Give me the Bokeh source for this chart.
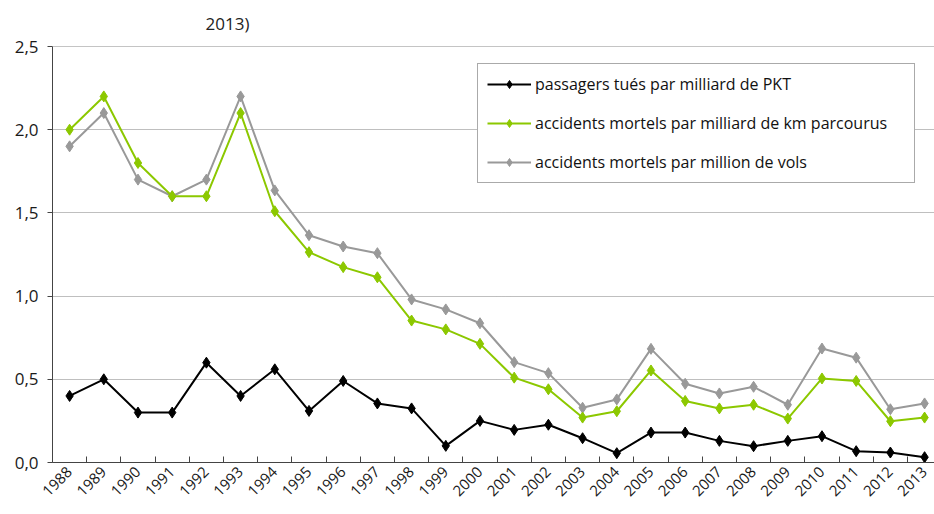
from bokeh.plotting import figure
from bokeh.models import (ColumnDataSource, FixedTicker, Legend, LegendItem, Title, Span)
from bokeh.embed import file_html
from bokeh.resources import INLINE
import math

years = list(range(1988, 2014))
pkt = [0.40, 0.50, 0.30, 0.30, 0.60, 0.40, 0.56, 0.31, 0.49, 0.355, 0.325, 0.10, 0.25,
       0.196, 0.227, 0.146, 0.056, 0.18, 0.18, 0.13, 0.098, 0.13, 0.158, 0.068, 0.06, 0.032]
km = [2.00, 2.20, 1.80, 1.60, 1.60, 2.10, 1.51, 1.264, 1.174, 1.113, 0.853, 0.80, 0.713,
      0.51, 0.44, 0.27, 0.308, 0.553, 0.37, 0.325, 0.347, 0.264, 0.505, 0.49, 0.248, 0.27]
vols = [1.90, 2.10, 1.70, 1.60, 1.70, 2.20, 1.635, 1.366, 1.298, 1.258, 0.98, 0.92, 0.837,
        0.603, 0.537, 0.329, 0.379, 0.683, 0.473, 0.415, 0.455, 0.347, 0.685, 0.63, 0.32, 0.355]
labels = ["passagers tués par milliard de PKT",
          "accidents mortels par milliard de km parcourus",
          "accidents mortels par million de vols"]
y_ticks = [0.0, 0.5, 1.0, 1.5, 2.0, 2.5]
y_tick_labels = ["0,0", "0,5", "1,0", "1,5", "2,0", "2,5"]
title_fragment = "2013)"

FONT = "Open Sans"

p = figure(width=934, height=514, output_backend="svg", toolbar_location=None,
           x_range=(1987.5, 2013.29), y_range=(0, 2.5),
           min_border_left=52, min_border_right=0, min_border_top=46, min_border_bottom=52)
p.outline_line_color = None
p.background_fill_color = "white"
p.border_fill_color = "white"

t = Title(text=title_fragment, align="left", offset=153, standoff=20,
          vertical_align="top",
          text_font=FONT, text_font_size="17px", text_color="#222222",
          text_font_style="normal")
p.add_layout(t, "above")

# y axis
p.yaxis.ticker = FixedTicker(ticks=y_ticks)
p.yaxis.major_label_overrides = {t: l for t, l in zip(y_ticks, y_tick_labels)}
p.yaxis.major_tick_out = 5
p.yaxis.major_tick_in = 0
p.yaxis.minor_tick_out = 0
p.yaxis.minor_tick_in = 0
p.yaxis.major_label_standoff = 9
p.yaxis.axis_line_color = "#444444"
p.yaxis.major_tick_line_color = "#444444"
p.yaxis.major_label_text_font = FONT
p.yaxis.major_label_text_font_size = "17px"
p.yaxis.major_label_text_color = "#1a1a1a"

# x axis
p.xaxis.ticker = FixedTicker(ticks=years, minor_ticks=[y + 0.5 for y in range(1987, 2014)])
p.xaxis.major_tick_in = 0
p.xaxis.major_tick_out = 0
p.xaxis.minor_tick_in = 6
p.xaxis.minor_tick_out = 0
p.xaxis.minor_tick_line_color = "#444444"
p.xaxis.axis_line_color = "#444444"
p.xaxis.major_label_orientation = math.pi / 4
p.xaxis.major_label_standoff = 7
p.xaxis.major_label_text_font = FONT
p.xaxis.major_label_text_font_size = "15px"
p.xaxis.major_label_text_color = "#1a1a1a"

p.xgrid.grid_line_color = None
p.ygrid.ticker = FixedTicker(ticks=[0.5, 1.0, 1.5, 2.0])
p.ygrid.grid_line_color = "#7f7f7f"
p.ygrid.grid_line_dash = "1 1"
p.ygrid.grid_line_width = 1

p.add_layout(Span(location=2.5, dimension="width", line_color="#8a8a8a", line_width=1))

src = ColumnDataSource(dict(x=years, pkt=pkt, km=km, vols=vols))

r_vols_l = p.line("x", "vols", source=src, line_color="#999999", line_width=2)
r_vols_m = p.scatter("x", "vols", source=src, marker="diamond", size=11,
                     fill_color="#999999", line_color="#999999")
r_km_l = p.line("x", "km", source=src, line_color="#8cc800", line_width=2)
r_km_m = p.scatter("x", "km", source=src, marker="diamond", size=11,
                   fill_color="#8cc800", line_color="#8cc800")
r_pkt_l = p.line("x", "pkt", source=src, line_color="#000000", line_width=2)
r_pkt_m = p.scatter("x", "pkt", source=src, marker="diamond", size=11,
                    fill_color="#000000", line_color="#000000")

legend = Legend(items=[
    LegendItem(label=labels[0], renderers=[r_pkt_l, r_pkt_m]),
    LegendItem(label=labels[1], renderers=[r_km_l, r_km_m]),
    LegendItem(label=labels[2], renderers=[r_vols_l, r_vols_m]),
], location=(425, 279))
legend.border_line_color = "#555555"
legend.border_line_width = 1
legend.background_fill_color = "white"
legend.background_fill_alpha = 1
legend.padding = 9
legend.margin = 0
legend.spacing = 17
legend.label_height = 20
legend.glyph_height = 20
legend.glyph_width = 44
legend.label_width = 370
legend.label_standoff = 4
legend.label_text_font = FONT
legend.label_text_font_size = "16px"
legend.label_text_color = "#111111"
p.add_layout(legend, "center")

open("out.html", "w").write(file_html(p, INLINE))
